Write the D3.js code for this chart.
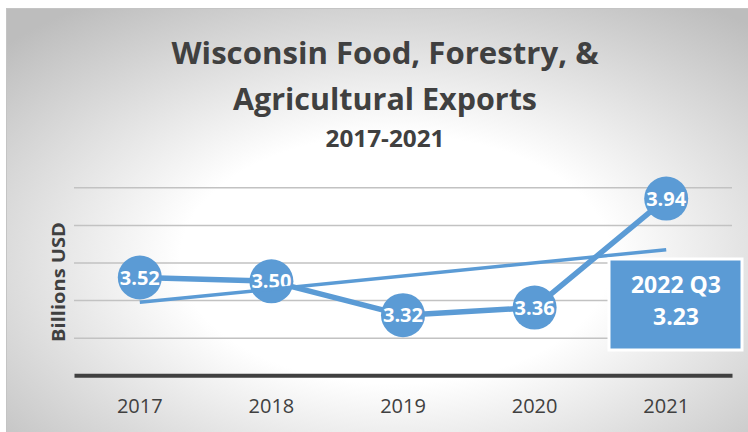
<!DOCTYPE html>
<html>
<head>
<meta charset="utf-8">
<script src="https://cdn.jsdelivr.net/npm/d3@7"></script>
<style>
    html, body { margin: 0; padding: 0; background: #fff; }
    svg { display: block; font-family: "Open Sans", sans-serif; }
</style>
</head>
<body>
<svg id="chart" width="748" height="432"></svg>
<script>
const years = ["2017", "2018", "2019", "2020", "2021"];
const exportValues = [3.52, 3.50, 3.32, 3.36, 3.94];
const gridTicks = [3.2, 3.4, 3.6, 3.8, 4.0];
const titleLines = ["Wisconsin Food, Forestry, &", "Agricultural Exports"];
const subtitle = "2017-2021";
const yLabel = "Billions USD";
const calloutLines = ["2022 Q3", "3.23"];

const blue = "#5b9bd5";
const ink = "#404040";

const svg = d3.select("#chart");
const W = 748, H = 432;

// background: white margin, thin frame, radial grey gradient
const defs = svg.append("defs");
const grad = defs.append("radialGradient")
    .attr("id", "bg")
    .attr("cx", 0.52).attr("cy", 0.58).attr("r", 0.72);
grad.append("stop").attr("offset", "0%").attr("stop-color", "#ffffff");
grad.append("stop").attr("offset", "40%").attr("stop-color", "#ffffff");
grad.append("stop").attr("offset", "100%").attr("stop-color", "#bdbdbd");

svg.append("rect")
    .attr("x", 6.5).attr("y", 8.5)
    .attr("width", W).attr("height", H)
    .attr("fill", "url(#bg)")
    .attr("stroke", "#c4c4c4");

// titles
const titles = svg.append("g")
    .attr("fill", ink)
    .attr("font-weight", "bold")
    .attr("text-anchor", "middle");
const titleSpec = [
    {text: titleLines[0], y: 64, size: 30, len: 427},
    {text: titleLines[1], y: 110, size: 30, len: 304},
    {text: subtitle, y: 146.5, size: 23, len: 119}
];
titles.selectAll("text")
    .data(titleSpec)
    .enter()
    .append("text")
    .attr("x", 385)
    .attr("y", d => d.y)
    .attr("font-size", d => d.size)
    .attr("textLength", d => d.len)
    .attr("lengthAdjust", "spacingAndGlyphs")
    .text(d => d.text);

// scales
const x = d3.scaleBand()
    .domain(years)
    .range([74, 732])
    .padding(0);
const y = d3.scaleLinear()
    .domain([3.0, 4.0])
    .range([375.3, 187.3]);
const cx = d => x(d) + x.bandwidth() / 2;

// gridlines
const grid = svg.append("g")
    .attr("transform", "translate(74,0)")
    .call(d3.axisLeft(y)
        .tickValues(gridTicks)
        .tickSize(-(732 - 74))
        .tickFormat(""));
grid.select(".domain").remove();
grid.selectAll(".tick line")
    .attr("stroke", "#c2c2c2")
    .attr("stroke-width", 1.5);

// category axis
const xAxis = svg.append("g")
    .attr("transform", "translate(0," + y(3.0) + ")")
    .call(d3.axisBottom(x).tickSize(0).tickPadding(0));
xAxis.select(".domain")
    .attr("stroke", ink)
    .attr("stroke-width", 4);
xAxis.selectAll("text")
    .attr("y", 38)
    .attr("dy", null)
    .attr("fill", ink)
    .attr("font-family", "Open Sans, sans-serif")
    .attr("font-size", 20);

// y axis title
svg.append("text")
    .attr("transform", "translate(65,282)rotate(-90)")
    .attr("text-anchor", "middle")
    .attr("fill", ink)
    .attr("font-weight", "bold")
    .attr("font-size", 18.5)
    .attr("textLength", 120)
    .attr("lengthAdjust", "spacingAndGlyphs")
    .text(yLabel);

// main series
const series = years.map((yr, i) => ({year: yr, value: exportValues[i]}));

svg.append("path")
    .datum(series)
    .attr("fill", "none")
    .attr("stroke", blue)
    .attr("stroke-width", 5.5)
    .attr("stroke-linejoin", "round")
    .attr("d", d3.line()
        .x(d => cx(d.year))
        .y(d => y(d.value)));

svg.append("g")
    .selectAll("circle")
    .data(series)
    .enter()
    .append("circle")
    .attr("cx", d => cx(d.year))
    .attr("cy", d => y(d.value))
    .attr("r", 22)
    .attr("fill", blue);

svg.append("g")
    .attr("fill", "#fff")
    .attr("font-weight", "bold")
    .attr("font-size", 20)
    .attr("text-anchor", "middle")
    .selectAll("text")
    .data(series)
    .enter()
    .append("text")
    .attr("x", d => cx(d.year))
    .attr("y", d => y(d.value) + 7)
    .text(d => d3.format(".2f")(d.value));

// linear trendline (least squares over the series)
const idx = exportValues.map((_, i) => i);
const mx = d3.mean(idx), my = d3.mean(exportValues);
const slope = d3.sum(idx, i => (i - mx) * (exportValues[i] - my)) / d3.sum(idx, i => (i - mx) ** 2);
const trend = [0, years.length - 1].map(i => ({year: years[i], value: my + slope * (i - mx)}));

svg.append("path")
    .datum(trend)
    .attr("fill", "none")
    .attr("stroke", blue)
    .attr("stroke-width", 3.5)
    .attr("d", d3.line()
        .x(d => cx(d.year))
        .y(d => y(d.value)));

// callout box
const callout = svg.append("g");
callout.append("rect")
    .attr("x", 609).attr("y", 259)
    .attr("width", 133).attr("height", 91)
    .attr("fill", blue)
    .attr("stroke", "#fff")
    .attr("stroke-width", 3);
callout.selectAll("text")
    .data(calloutLines)
    .enter()
    .append("text")
    .attr("x", 676)
    .attr("y", (d, i) => 293.3 + i * 31.7)
    .attr("text-anchor", "middle")
    .attr("fill", "#fff")
    .attr("font-weight", "bold")
    .attr("font-size", 23)
    .text(d => d);
</script>
</body>
</html>
